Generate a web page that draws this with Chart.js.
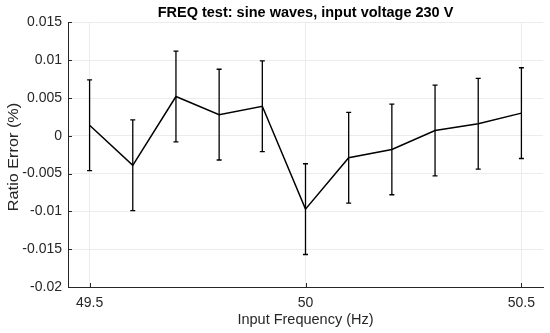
<!DOCTYPE html>
<html>
<head>
<meta charset="utf-8">
<script src="https://cdn.jsdelivr.net/npm/chart.js@4/dist/chart.umd.min.js"></script>
<style>
html,body{margin:0;padding:0;background:#fff;}
#wrap{width:550px;height:333px;}
</style>
</head>
<body>
<div id="wrap"><canvas id="c" width="550" height="333"></canvas></div>
<script>
const freq = [49.5, 49.6, 49.7, 49.8, 49.9, 50.0, 50.1, 50.2, 50.3, 50.4, 50.5];
const ratioError = [0.0014, -0.0039, 0.0052, 0.0028, 0.0039, -0.0097, -0.0029, -0.0018, 0.0007, 0.0016, 0.0030];
const errHalf = [0.0060, 0.0060, 0.0060, 0.0060, 0.0060, 0.0060, 0.0060, 0.0060, 0.0060, 0.0060, 0.0060];
const xTicks = [49.5, 50, 50.5];
const xTickLabels = ['49.5', '50', '50.5'];
const yTicks = [0.015, 0.01, 0.005, 0, -0.005, -0.01, -0.015, -0.02];
const yTickLabels = ['0.015', '0.01', '0.005', '0', '-0.005', '-0.01', '-0.015', '-0.02'];
const titleText = 'FREQ test: sine waves, input voltage 230 V';
const xTitle = 'Input Frequency (Hz)';
const yTitle = 'Ratio Error (%)';

const FONT = "'Liberation Sans', Arial, Helvetica, sans-serif";
const AXC = '#262626';

const errorBarPlugin = {
  id: 'errorBars',
  afterDatasetsDraw(chart) {
    const ctx = chart.ctx, xs = chart.scales.x, ys = chart.scales.y;
    ctx.save();
    ctx.strokeStyle = '#000';
    ctx.lineWidth = 1.3;
    for (let i = 0; i < freq.length; i++) {
      const px = xs.getPixelForValue(freq[i]);
      const top = ys.getPixelForValue(ratioError[i] + errHalf[i]);
      const bot = ys.getPixelForValue(ratioError[i] - errHalf[i]);
      ctx.beginPath();
      ctx.moveTo(px, top); ctx.lineTo(px, bot);
      ctx.moveTo(px - 2.5, top); ctx.lineTo(px + 2.5, top);
      ctx.moveTo(px - 2.5, bot); ctx.lineTo(px + 2.5, bot);
      ctx.stroke();
    }
    ctx.restore();
  }
};

const innerTicksPlugin = {
  id: 'innerTicks',
  afterDraw(chart) {
    const ctx = chart.ctx, xs = chart.scales.x, ys = chart.scales.y, a = chart.chartArea;
    ctx.save();
    ctx.strokeStyle = AXC;
    ctx.lineWidth = 1;
    ctx.beginPath();
    yTicks.forEach(v => {
      const py = Math.round(ys.getPixelForValue(v)) + 0.5;
      ctx.moveTo(a.left, py); ctx.lineTo(a.left + 4, py);
    });
    xTicks.forEach(v => {
      const px = Math.round(xs.getPixelForValue(v)) + 0.5;
      ctx.moveTo(px, a.bottom); ctx.lineTo(px, a.bottom - 4);
    });
    ctx.stroke();
    // y axis title
    ctx.fillStyle = AXC;
    ctx.font = "14.5px " + FONT;
    ctx.textAlign = 'center';
    ctx.textBaseline = 'middle';
    ctx.translate(14, 157);
    ctx.rotate(-Math.PI / 2);
    ctx.scale(1.12, 1);
    ctx.fillText(yTitle, 0, 0);
    ctx.restore();
  }
};

new Chart(document.getElementById('c'), {
  type: 'line',
  data: {
    datasets: [{
      data: freq.map((f, i) => ({x: f, y: ratioError[i]})),
      borderColor: '#000',
      borderWidth: 1.5,
      pointRadius: 0,
      tension: 0,
      fill: false
    }]
  },
  options: {
    responsive: false,
    animation: false,
    devicePixelRatio: 1,
    layout: {padding: {left: 0, right: 7, top: 0, bottom: 0}},
    plugins: {
      legend: {display: false},
      tooltip: {enabled: false},
      title: {
        display: true,
        text: titleText,
        fullSize: false,
        color: '#000',
        font: {family: FONT, size: 14.5, weight: 'bold', lineHeight: 1.2},
        padding: {top: 4, bottom: 1}
      }
    },
    scales: {
      x: {
        type: 'linear',
        min: 49.45,
        max: 50.55,
        afterBuildTicks: s => { s.ticks = xTicks.map(v => ({value: v})); },
        afterFit: s => { s.height = 46; },
        ticks: {
          color: AXC,
          font: {family: FONT, size: 14},
          padding: 8,
          maxRotation: 0,
          callback: (v) => xTickLabels[xTicks.indexOf(v)]
        },
        grid: {color: '#ececec', drawTicks: false, lineWidth: 1},
        border: {display: true, color: AXC, width: 1},
        title: {
          display: true,
          text: xTitle,
          color: AXC,
          font: {family: FONT, size: 14.5, lineHeight: 1.2},
          padding: {top: 0, bottom: 4}
        }
      },
      y: {
        min: -0.02,
        max: 0.015,
        afterBuildTicks: s => { s.ticks = yTicks.map(v => ({value: v})); },
        afterFit: s => { s.width = 68; },
        ticks: {
          color: AXC,
          font: {family: FONT, size: 14},
          padding: 6,
          callback: (v) => yTickLabels[yTicks.indexOf(v)]
        },
        grid: {color: '#ececec', drawTicks: false, lineWidth: 1},
        border: {display: true, color: AXC, width: 1},
        title: {display: false, text: yTitle}
      }
    }
  },
  plugins: [errorBarPlugin, innerTicksPlugin]
});
</script>
</body>
</html>
